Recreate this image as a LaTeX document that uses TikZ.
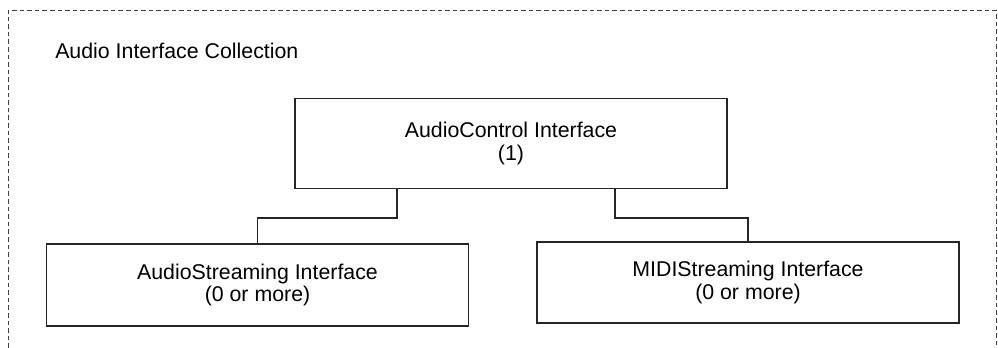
\documentclass[tikz,border=0pt]{standalone}
\usepackage{fontspec}
\setmainfont{Liberation Sans}
\usetikzlibrary{positioning}

\tikzset{
    iface/.style = {draw=black!85, line width=0.8pt, align=center,
                    font=\fontsize{16}{17}\selectfont, inner sep=0pt},
    link/.style  = {draw=black!85, line width=0.8pt},
}

\begin{document}
\begin{tikzpicture}[x=0.75pt, y=-0.75pt]
        \useasboundingbox (0,0) rectangle (998,348);
        % collection frame, open at the bottom
        \draw[black!75, line width=0.6pt, dash pattern=on 3.5pt off 2.2pt]
            (8,348) |- (996,10) -- (996,348);
        \node[anchor=west, inner sep=0pt, font=\fontsize{16}{17}\selectfont] (title) at (55,51) {Audio Interface Collection};

        \node[iface, minimum width=324pt, minimum height=68pt] (ctrl) at (511,143.5)
            {AudioControl Interface\\(1)};
        \node[iface, minimum width=317pt, minimum height=61.5pt] (astream) at (257.5,285)
            {AudioStreaming Interface\\(0 or more)};
        \node[iface, minimum width=316.5pt, minimum height=60.75pt] (mstream) at (748,282.5)
            {MIDIStreaming Interface\\(0 or more)};

        \coordinate (ljoin) at (397,218);
        \coordinate (rjoin) at (615,218);
        \draw[link] (ctrl.south -| ljoin) -- (ljoin) -| (astream.north);
        \draw[link] (ctrl.south -| rjoin) -- (rjoin) -| (mstream.north);
    \end{tikzpicture}
\end{document}
